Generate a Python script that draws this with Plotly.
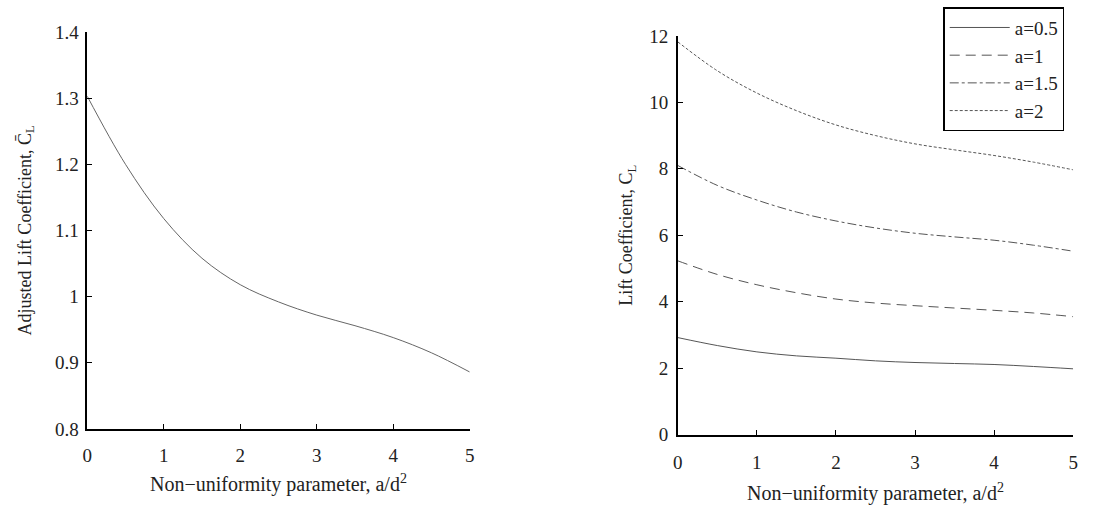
import plotly.graph_objects as go

# ---- data ----
x_vals = [0, 0.5, 1, 1.5, 2, 2.5, 3, 3.5, 4, 4.5, 5]
adjusted_cl = [1.303, 1.200, 1.118, 1.058, 1.018, 0.992, 0.972, 0.956, 0.938, 0.915, 0.886]

series_names = ["a=0.5", "a=1", "a=1.5", "a=2"]
cl_a05 = [2.92, 2.68, 2.49, 2.37, 2.30, 2.22, 2.17, 2.14, 2.11, 2.05, 1.98]
cl_a1 = [5.23, 4.82, 4.51, 4.27, 4.08, 3.96, 3.88, 3.81, 3.74, 3.66, 3.55]
cl_a15 = [8.10, 7.50, 7.06, 6.70, 6.43, 6.22, 6.06, 5.95, 5.85, 5.70, 5.52]
cl_a2 = [11.82, 10.95, 10.28, 9.75, 9.32, 9.00, 8.75, 8.57, 8.40, 8.20, 7.97]
right_series = [cl_a05, cl_a1, cl_a15, cl_a2]
dashes = ["solid", "10px,6px", "dashdot", "3px,2px"]

x_ticks = [0, 1, 2, 3, 4, 5]
left_yticks = [0.8, 0.9, 1.0, 1.1, 1.2, 1.3, 1.4]
left_yticklabels = ["0.8", "0.9", "1", "1.1", "1.2", "1.3", "1.4"]
right_yticks = [0, 2, 4, 6, 8, 10, 12]

FONT = "Liberation Serif, Times New Roman, serif"
TXT = "#222"
W, H = 1094, 506

fig = go.Figure()

fig.add_trace(go.Scatter(
    x=x_vals, y=adjusted_cl, mode="lines", line=dict(color="#666", width=1, shape="spline"),
    showlegend=False, xaxis="x", yaxis="y"))

for name, vals, d in zip(series_names, right_series, dashes):
    fig.add_trace(go.Scatter(
        x=x_vals, y=vals, mode="lines", name=name,
        line=dict(color="#555", width=1, dash=d, shape="spline"),
        xaxis="x2", yaxis="y2"))

axis_common = dict(
    showgrid=False, zeroline=False, showline=True, linecolor="black", linewidth=1.5,
    ticks="inside", ticklen=5, tickcolor="black", tickwidth=1.2,
    tickfont=dict(family=FONT, size=19, color=TXT), mirror=False,
)

xtitle = "Non\u2212uniformity parameter, a/d<sup>2</sup>"

fig.update_layout(
    width=W, height=H,
    margin=dict(l=0, r=0, t=0, b=0),
    paper_bgcolor="white", plot_bgcolor="white",
    font=dict(family=FONT, color=TXT),
    xaxis=dict(domain=[83 / W, 469 / W], range=[0, 5], tickvals=x_ticks,
               title=dict(text=xtitle, font=dict(family=FONT, size=20, color=TXT), standoff=12),
               anchor="y", ticklabelstandoff=9, **axis_common),
    yaxis=dict(domain=[1 - 437 / H, 1 - 23 / H], range=[0.8, 1.4], tickvals=left_yticks,
               ticktext=left_yticklabels,
               title=dict(text="Adjusted Lift Coefficient, C\u0304<sub>L</sub>",
                          font=dict(family=FONT, size=18, color=TXT), standoff=19),
               anchor="x", ticklabelstandoff=3, **axis_common),
    xaxis2=dict(domain=[679 / W, 1078 / W], range=[0, 5], tickvals=x_ticks,
                title=dict(text=xtitle, font=dict(family=FONT, size=20, color=TXT), standoff=14),
                anchor="y2", ticklabelstandoff=10, **axis_common),
    yaxis2=dict(domain=[1 - 443 / H, 1 - 27 / H], range=[0, 12], tickvals=right_yticks,
                title=dict(text="Lift Coefficient, C<sub>L</sub>",
                           font=dict(family=FONT, size=18, color=TXT), standoff=12),
                anchor="x2", ticklabelstandoff=4, **axis_common),
    legend=dict(x=1069 / W, y=1 + 3 / H, xanchor="right", yanchor="top",
                bgcolor="white", bordercolor="black", borderwidth=1.5,
                font=dict(family=FONT, size=19, color=TXT),
                tracegroupgap=0, itemwidth=60),
)

fig.write_html("out.html")
